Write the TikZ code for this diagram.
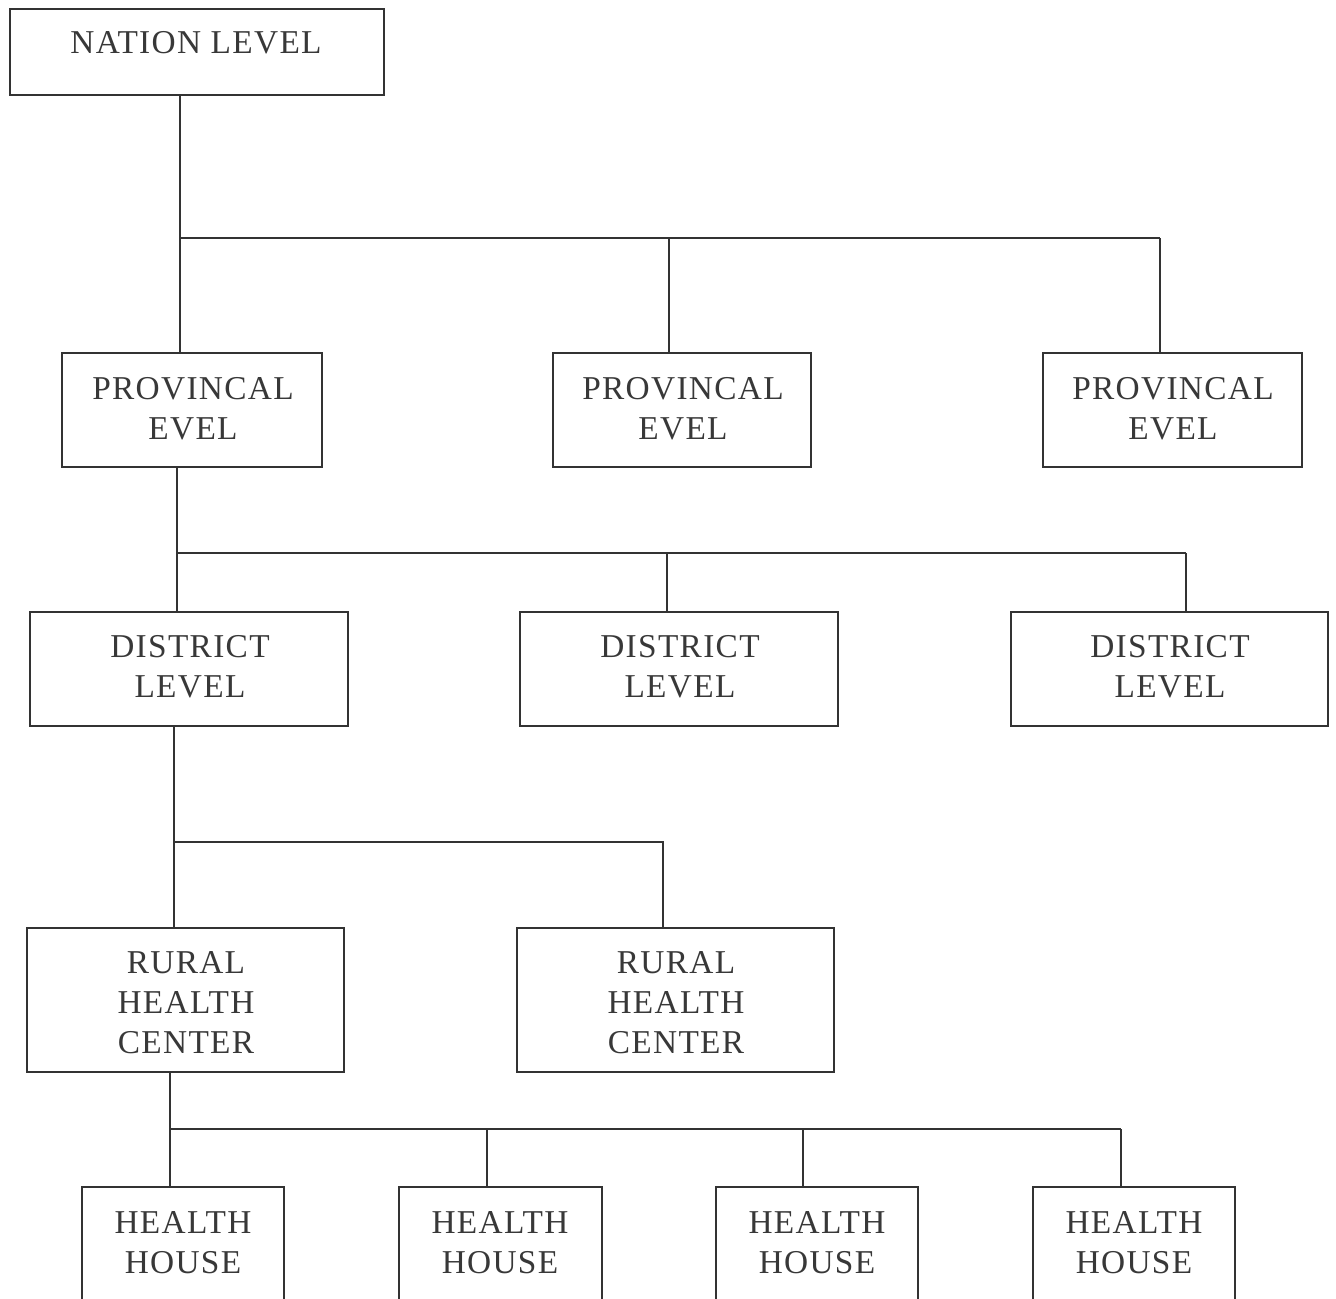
\documentclass[tikz,border=0pt]{standalone}
\usepackage{fontspec}
\setmainfont{Liberation Serif}[LetterSpace=4]
\begin{document}
\begin{tikzpicture}[x=0.75pt,y=-0.75pt,
  ink/.style={draw=black!80, line width=1.5pt},
  box/.style={ink, rectangle, inner sep=0pt, fill=none},
  lbl/.style={text=black!78, font=\fontsize{25}{30}\selectfont, align=center, inner sep=0pt},
  wire/.style={ink}]
\useasboundingbox (0,0) rectangle (1336,1299);
\clip (0,0) rectangle (1336,1299);
\fill[white] (0,0) rectangle (1336,1299);
\newcommand{\bx}[5]{\node[box, minimum width={(#4-#2)*0.75pt}, minimum height={(#5-#3)*0.75pt}] (#1) at ({(#2+#4)/2},{(#3+#5)/2}) {};}
% boxes
\bx{nat}{10}{9}{384}{95}
\bx{p1}{62}{353}{322}{467}
\bx{p2}{553}{353}{811}{467}
\bx{p3}{1043}{353}{1302}{467}
\bx{d1}{30}{612}{348}{726}
\bx{d2}{520}{612}{838}{726}
\bx{d3}{1011}{612}{1328}{726}
\bx{r1}{27}{928}{344}{1072}
\bx{r2}{517}{928}{834}{1072}
\bx{h1}{82}{1187}{284}{1345}
\bx{h2}{399}{1187}{602}{1345}
\bx{h3}{716}{1187}{918}{1345}
\bx{h4}{1033}{1187}{1235}{1345}
% labels
\node[lbl] (tnat) at (196,43) {NATION LEVEL};
\node[lbl] (tp1) at (193,409) {PROVINCAL\\EVEL};
\node[lbl] (tp2) at (683,409) {PROVINCAL\\EVEL};
\node[lbl] (tp3) at (1173,409) {PROVINCAL\\EVEL};
\node[lbl] (td1) at (190,667) {DISTRICT\\LEVEL};
\node[lbl] (td2) at (680,667) {DISTRICT\\LEVEL};
\node[lbl] (td3) at (1170,667) {DISTRICT\\LEVEL};
\node[lbl] (tr1) at (186,1003) {RURAL\\HEALTH\\CENTER};
\node[lbl] (tr2) at (676,1003) {RURAL\\HEALTH\\CENTER};
\node[lbl] (th1) at (183,1243) {HEALTH\\HOUSE};
\node[lbl] (th2) at (500,1243) {HEALTH\\HOUSE};
\node[lbl] (th3) at (817,1243) {HEALTH\\HOUSE};
\node[lbl] (th4) at (1134,1243) {HEALTH\\HOUSE};
% level 1 connectors
\coordinate (j1) at (180,238);
\coordinate (a2) at (669,238);
\coordinate (a3) at (1160,238);
\draw[wire] (nat.south -| j1) -- (p1.north -| j1);
\draw[wire] (j1) -- (a3);
\draw[wire] (a2) -- (a2 |- p2.north);
\draw[wire] (a3) -- (a3 |- p3.north);
% level 2 connectors
\coordinate (j2) at (177,553);
\coordinate (b2) at (667,553);
\coordinate (b3) at (1186,553);
\draw[wire] (p1.south -| j2) -- (d1.north -| j2);
\draw[wire] (j2) -- (b3);
\draw[wire] (b2) -- (b2 |- d2.north);
\draw[wire] (b3) -- (b3 |- d3.north);
% level 3 connectors
\coordinate (j3) at (174,842);
\coordinate (c2) at (663,842);
\draw[wire] (d1.south -| j3) -- (r1.north -| j3);
\draw[wire] (j3) -- (c2) -- (c2 |- r2.north);
% level 4 connectors
\coordinate (j4) at (170,1129);
\coordinate (e2) at (487,1129);
\coordinate (e3) at (803,1129);
\coordinate (e4) at (1121,1129);
\draw[wire] (r1.south -| j4) -- (h1.north -| j4);
\draw[wire] (j4) -- (e4);
\draw[wire] (e2) -- (e2 |- h2.north);
\draw[wire] (e3) -- (e3 |- h3.north);
\draw[wire] (e4) -- (e4 |- h4.north);
\end{tikzpicture}
\end{document}
